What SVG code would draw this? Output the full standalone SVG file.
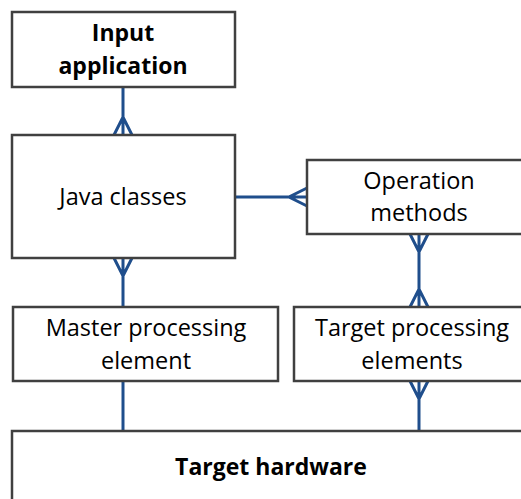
<svg xmlns="http://www.w3.org/2000/svg" width="521" height="499" viewBox="0 0 521 499">
<style>
.box{fill:#fff;stroke:#404040;stroke-width:2.5}
.t{font-family:"Open Sans","Liberation Sans",sans-serif;font-size:23.5px;fill:#000;text-anchor:middle}
.b{font-weight:bold;font-size:23px}
.c{stroke:#1f4e8c;stroke-width:3;fill:none}
</style>
<rect width="521" height="499" fill="#fff"/>
<g id="connectors">
<path class="c" d="M123 87V135M114 135L123 117L132 135"/>
<path class="c" d="M235 197H307M307 188L289 197L307 206"/>
<path class="c" d="M419 234V307M410 234L419 252L428 234M410 307L419 289L428 307"/>
<path class="c" d="M123 258V307M114 258L123 276L132 258"/>
<path class="c" d="M123 381V431"/>
<path class="c" d="M419 381V431M410 381L419 399L428 381"/>
</g>
<g id="input">
<rect class="box" x="12" y="12" width="223" height="75"/>
<text class="t b" x="123" y="41">Input</text>
<text class="t b" x="123" y="74">application</text>
</g>
<g id="java">
<rect class="box" x="12" y="135" width="223" height="123"/>
<text class="t" x="123" y="205">Java classes</text>
</g>
<g id="operation">
<rect class="box" x="307" y="160" width="220" height="74"/>
<text class="t" x="419" y="189">Operation</text>
<text class="t" x="419" y="221">methods</text>
</g>
<g id="master">
<rect class="box" x="13" y="307" width="265" height="74"/>
<text class="t" x="146" y="336">Master processing</text>
<text class="t" x="146" y="369">element</text>
</g>
<g id="targetpe">
<rect class="box" x="294" y="307" width="233" height="74"/>
<text class="t" x="412" y="336">Target processing</text>
<text class="t" x="412" y="369">elements</text>
</g>
<g id="hardware">
<rect class="box" x="12" y="431" width="515" height="80"/>
<text class="t b" x="271" y="475">Target hardware</text>
</g>
</svg>
